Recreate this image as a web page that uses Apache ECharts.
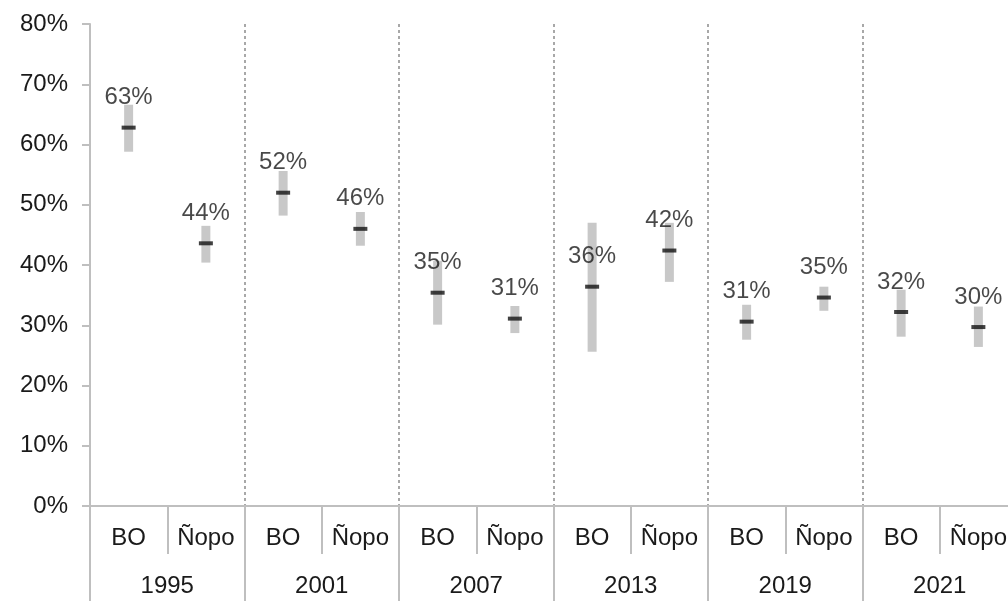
<!DOCTYPE html>
<html>
<head>
<meta charset="utf-8">
<script src="https://cdn.jsdelivr.net/npm/echarts@6/dist/echarts.min.js"></script>
<style>
  html, body { margin: 0; padding: 0; background: #fff; overflow: hidden; }
  #chart { width: 1008px; height: 601px; }
</style>
</head>
<body>
<div id="chart"></div>
<script>
var years = ["1995", "2001", "2007", "2013", "2019", "2021"];
var methods = ["BO", "Ñopo", "BO", "Ñopo", "BO", "Ñopo", "BO", "Ñopo", "BO", "Ñopo", "BO", "Ñopo"];
// point estimate, lower and upper bound (%)
var pointVals = [62.8, 43.6, 52.0, 46.0, 35.4, 31.1, 36.4, 42.4, 30.6, 34.6, 32.2, 29.7];
var lowVals = [58.8, 40.4, 48.2, 43.2, 30.1, 28.7, 25.6, 37.2, 27.6, 32.4, 28.1, 26.4];
var highVals = [66.6, 46.5, 55.6, 48.8, 40.7, 33.2, 47.0, 47.0, 33.4, 36.4, 35.9, 33.1];
var pointLabels = ["63%", "44%", "52%", "46%", "35%", "31%", "36%", "42%", "31%", "35%", "32%", "30%"];
var yTicks = [0, 10, 20, 30, 40, 50, 60, 70, 80];

var rangeVals = highVals.map(function (h, i) { return +(h - lowVals[i]).toFixed(2); });

var font = "Liberation Sans, Arial, sans-serif";
var gray = "#bfbfbf";
var ink = "#1a1a1a";

var chart = echarts.init(document.getElementById("chart"));
chart.setOption({
  animation: false,
  // plot runs a little past the right edge, as in the original
  grid: { left: 90, top: 24, width: 927, height: 482, outerBoundsMode: "none", containLabel: false },
  xAxis: [
    {
      type: "category",
      data: methods,
      position: "bottom",
      axisLine: { onZero: false, lineStyle: { color: gray, width: 2 } },
      axisTick: { show: true, interval: 0, length: 48, lineStyle: { color: gray, width: 2 } },
      axisLabel: { interval: 0, margin: 20, fontSize: 24, color: ink, fontFamily: font },
      splitLine: { show: false }
    },
    {
      type: "category",
      data: years,
      position: "bottom",
      axisLine: { show: false, onZero: false },
      axisTick: { show: true, interval: 0, length: 95, lineStyle: { color: gray, width: 2 } },
      axisLabel: { interval: 0, margin: 68, fontSize: 24, color: ink, fontFamily: font },
      splitLine: { show: true, interval: 0, lineStyle: { color: "#8c8c8c", width: 1.5, type: [3, 3] } }
    }
  ],
  yAxis: {
    type: "value",
    min: yTicks[0],
    max: yTicks[yTicks.length - 1],
    interval: 10,
    axisLine: { show: true, lineStyle: { color: gray, width: 2 } },
    axisTick: { show: true, length: 8, lineStyle: { color: gray, width: 2 } },
    axisLabel: { margin: 22, fontSize: 24, color: ink, fontFamily: font, formatter: "{value}%" },
    splitLine: { show: false }
  },
  series: [
    {
      name: "base",
      type: "bar",
      stack: "ci",
      barWidth: 9,
      itemStyle: { color: "transparent" },
      silent: true,
      data: lowVals
    },
    {
      name: "rango",
      type: "bar",
      stack: "ci",
      barWidth: 9,
      itemStyle: { color: "#c8c8c8" },
      data: rangeVals
    },
    {
      name: "estimado",
      type: "scatter",
      symbol: "rect",
      symbolSize: [14, 4],
      itemStyle: { color: "#111" },
      z: 5,
      label: {
        show: true,
        position: "top",
        distance: 16,
        fontSize: 24,
        color: ink,
        fontFamily: font,
        formatter: function (p) { return pointLabels[p.dataIndex]; }
      },
      data: pointVals
    }
  ]
});
</script>
</body>
</html>
